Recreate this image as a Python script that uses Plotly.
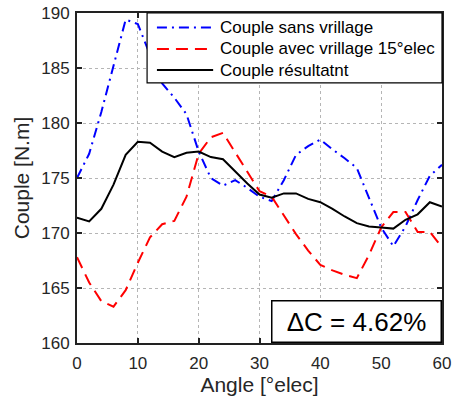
import plotly.graph_objects as go

angle = list(range(0, 61, 2))

couple_sans = [175.0, 177.2, 181.0, 185.3, 189.4, 189.0, 186.2, 183.6, 182.3, 180.8,
               177.4, 175.0, 174.3, 174.8, 174.1, 173.3, 172.9, 174.8, 177.1, 177.9,
               178.5, 177.6, 176.8, 175.9, 173.2, 170.5, 168.8, 170.6, 173.0, 175.2, 176.2]

couple_avec = [167.8, 165.5, 163.8, 163.3, 164.8, 167.3, 169.6, 170.8, 171.1, 173.3,
               177.2, 178.7, 179.1, 177.3, 175.5, 173.8, 173.3, 171.6, 169.9, 168.4,
               167.1, 166.6, 166.2, 165.9, 168.0, 170.5, 171.9, 171.9, 170.1, 170.1, 168.7]

couple_res = [171.4, 171.05, 172.2, 174.4, 177.1, 178.3, 178.2, 177.4, 176.9, 177.3,
              177.4, 176.9, 176.7, 175.6, 174.5, 173.5, 173.2, 173.6, 173.6, 173.1,
              172.8, 172.2, 171.5, 170.9, 170.6, 170.5, 170.4, 171.2, 171.7, 172.8, 172.4]

names = ["Couple sans vrillage", "Couple avec vrillage 15°elec", "Couple résultatnt"]
colors = ["#0000FF", "#FF0000", "#000000"]
dashes = ["10px,5px,2px,5px", "12px,7px", "solid"]
x_ticks = [0, 10, 20, 30, 40, 50, 60]
y_ticks = [160, 165, 170, 175, 180, 185, 190]
delta_text = "ΔC = 4.62%"

FONT = "Arial, Liberation Sans, Helvetica, sans-serif"

fig = go.Figure()
for yv, nm, col, ds in zip([couple_sans, couple_avec, couple_res], names, colors, dashes):
    fig.add_trace(go.Scatter(x=angle, y=yv, mode="lines", name=nm, showlegend=False,
                             line=dict(color=col, width=2, dash=ds)))

axis_common = dict(
    showline=True, linecolor="#222222", linewidth=2, mirror="ticks",
    ticks="inside", ticklen=5, tickwidth=1.5, tickcolor="#222222",
    showgrid=True, gridcolor="#b5b5b5", gridwidth=1, griddash="dot",
    zeroline=False, automargin=False,
    tickfont=dict(family=FONT, size=17, color="#262626"),
)

fig.update_xaxes(range=[0, 60], tickvals=x_ticks, ticklabelstandoff=4,
                 title=dict(text="Angle [°elec]", font=dict(family=FONT, size=21, color="#262626"),
                            standoff=2),
                 **axis_common)
fig.update_yaxes(range=[160, 190], tickvals=y_ticks, ticklabelstandoff=2,
                 title=dict(text="Couple [N.m]", font=dict(family=FONT, size=21, color="#262626"),
                            standoff=6),
                 **axis_common)

# Legend box (drawn in paper coordinates, MATLAB style)
leg_x0, leg_x1, leg_y0, leg_y1 = 0.192, 1.0, 0.788, 1.0
sample_x0, sample_x1, text_x = 0.219, 0.373, 0.387
row_y = [0.956, 0.891, 0.827]
fig.add_shape(type="rect", xref="paper", yref="paper", x0=leg_x0, x1=leg_x1, y0=leg_y0, y1=leg_y1,
              line=dict(color="#000000", width=1.2), fillcolor="white", layer="above")
for ry, nm, col, ds in zip(row_y, names, colors, dashes):
    fig.add_shape(type="line", xref="paper", yref="paper", x0=sample_x0, x1=sample_x1, y0=ry, y1=ry,
                  line=dict(color=col, width=2, dash=ds), layer="above")
    fig.add_annotation(text=nm, xref="paper", yref="paper", x=text_x, y=ry,
                       xanchor="left", yanchor="middle", showarrow=False,
                       font=dict(family=FONT, size=17, color="#000000"))

fig.add_annotation(text=delta_text, xref="paper", yref="paper", x=1, y=0,
                   xanchor="right", yanchor="bottom", showarrow=False,
                   font=dict(family=FONT, size=26, color="#000000"),
                   bgcolor="white", bordercolor="#000000", borderwidth=1.5,
                   width=166, height=38, borderpad=1)

fig.update_layout(
    width=452, height=403,
    margin=dict(l=77, r=10, t=13, b=60, autoexpand=False),
    paper_bgcolor="white", plot_bgcolor="white",
    font=dict(family=FONT, size=17, color="#000000"),
    showlegend=False,
)

fig.write_html("out.html", config={"displayModeBar": False},
               post_script="document.body.style.margin='0px';document.body.style.overflow='hidden';")
